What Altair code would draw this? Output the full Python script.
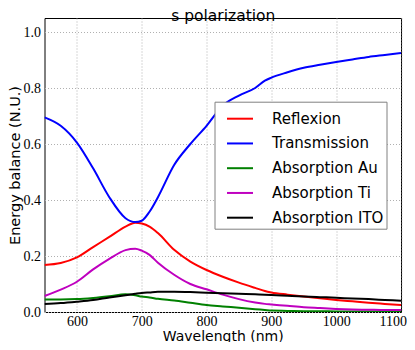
import altair as alt
import pandas as pd

wavelength = [550, 575, 600, 625, 650, 675, 690, 700, 712, 725, 750, 775, 800, 825,
              850, 875, 890, 900, 925, 950, 975, 1000, 1025, 1050, 1075, 1100]

reflexion = [0.168, 0.175, 0.195, 0.232, 0.268, 0.305, 0.319, 0.316, 0.305, 0.282, 0.222,
             0.180, 0.150, 0.126, 0.105, 0.086, 0.075, 0.070, 0.062, 0.055, 0.049,
             0.043, 0.038, 0.033, 0.029, 0.025]
transmission = [0.695, 0.665, 0.605, 0.513, 0.410, 0.335, 0.321, 0.326, 0.358, 0.410, 0.525,
                0.600, 0.665, 0.737, 0.773, 0.800, 0.826, 0.837, 0.856, 0.872, 0.883,
                0.893, 0.902, 0.911, 0.918, 0.925]
abs_au = [0.045, 0.045, 0.046, 0.050, 0.056, 0.063, 0.060, 0.055, 0.052, 0.047, 0.041,
          0.033, 0.025, 0.020, 0.015, 0.010, 0.007, 0.005, 0.004, 0.003, 0.003,
          0.002, 0.002, 0.002, 0.002, 0.002]
abs_ti = [0.057, 0.080, 0.108, 0.152, 0.190, 0.221, 0.226, 0.219, 0.204, 0.176, 0.133,
          0.100, 0.081, 0.062, 0.046, 0.034, 0.029, 0.027, 0.022, 0.017, 0.014,
          0.011, 0.009, 0.008, 0.007, 0.007]
abs_ito = [0.029, 0.032, 0.037, 0.043, 0.052, 0.060, 0.065, 0.068, 0.070, 0.072, 0.072,
           0.071, 0.069, 0.067, 0.065, 0.063, 0.062, 0.061, 0.058, 0.055, 0.053,
           0.051, 0.048, 0.046, 0.043, 0.040]

series_names = ["Reflexion", "Transmission", "Absorption Au", "Absorption Ti", "Absorption ITO"]
series_colors = ["#ff0000", "#0000ff", "#008000", "#bf00bf", "#000000"]
x_ticks = [600, 700, 800, 900, 1000, 1100]
y_ticks = [0.0, 0.2, 0.4, 0.6, 0.8, 1.0]

rows = []
for i, (name, vals) in enumerate(zip(series_names, [reflexion, transmission, abs_au, abs_ti, abs_ito])):
    for w, v in zip(wavelength, vals):
        rows.append({"wl": w, "val": v, "series": name, "k": i})
df = pd.DataFrame(rows)

tick_font = "Liberation Serif"
text_font = "DejaVu Sans"

x_scale = alt.Scale(domain=[550, 1100], nice=False, zero=False)
y_scale = alt.Scale(domain=[0, 1.05], nice=False, zero=False)

base = alt.Chart(df)

lines = base.mark_line(strokeWidth=2, interpolate="monotone", clip=True).encode(
    x=alt.X("wl:Q", scale=x_scale,
            axis=alt.Axis(values=x_ticks, title="Wavelength (nm)", format="d",
                          labelFont=tick_font, labelFontSize=14, labelColor="black",
                          labelPadding=2, labelFlush=True, labelFlushOffset=5.5,
                          titleFont=text_font, titleFontSize=14,
                          titleFontWeight="normal", titleColor="black",
                          titleY=28, titleBaseline="alphabetic",
                          grid=True, gridDash=[1, 2], gridColor="#b0b0b0",
                          domain=False, ticks=False)),
    y=alt.Y("val:Q", scale=y_scale,
            axis=alt.Axis(values=y_ticks, title="Energy balance (N.U.)", format=".1f",
                          labelFont=tick_font, labelFontSize=14, labelColor="black",
                          labelPadding=4, titleFont=text_font, titleFontSize=14.5,
                          titleFontWeight="normal", titleColor="black",
                          titleX=-25, titleBaseline="alphabetic",
                          grid=True, gridDash=[1, 2], gridColor="#b0b0b0",
                          domain=False, ticks=False, labelFlush=False)),
    color=alt.Color("series:N",
                    scale=alt.Scale(domain=series_names, range=series_colors),
                    legend=alt.Legend(title=None, orient="none", legendX=170, legendY=83.7,
                                      labelFont=text_font, labelFontSize=15, labelColor="black",
                                      symbolType="stroke", symbolStrokeWidth=2, symbolSize=676,
                                      labelOffset=18, padding=3, rowPadding=2.75, symbolOffset=8.5,
                                      fillColor="white", strokeColor="#808080")),
    order=alt.Order("k:Q"),
)

# invisible layer carrying the top axis, whose title is the chart title
title_layer = base.mark_point(opacity=0).encode(
    x=alt.X("wl:Q", scale=x_scale,
            axis=alt.Axis(orient="top", title="s polarization", labels=False, ticks=False,
                          grid=False, domain=False, titleFont=text_font, titleFontSize=15.5,
                          titleFontWeight="normal", titleColor="black",
                          titleY=2, titleBaseline="alphabetic")),
    y=alt.Y("val:Q", scale=y_scale, axis=None),
)

chart = alt.layer(lines, title_layer).resolve_axis(x="independent", y="independent").properties(
    width=356.5, height=294,
    autosize=alt.AutoSizeParams(type="none"),
    padding={"left": 36.5, "top": 10, "right": 6, "bottom": 30},
).configure_view(stroke="black", strokeWidth=1)

chart.save("out.html", embed_options={"renderer": "svg", "actions": False})
